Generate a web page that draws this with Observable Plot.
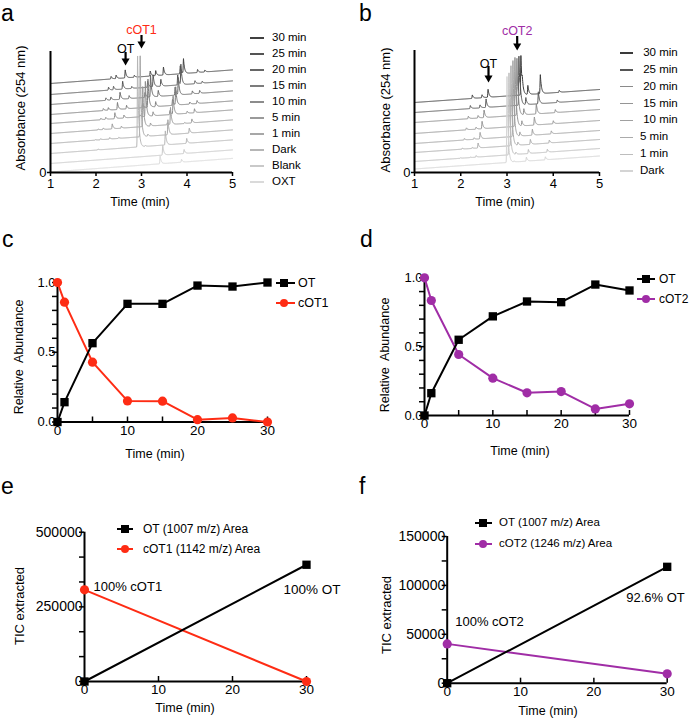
<!DOCTYPE html>
<html><head><meta charset="utf-8">
<script src="https://cdn.jsdelivr.net/npm/d3@7"></script>
<script src="https://cdn.jsdelivr.net/npm/@observablehq/plot@0.6"></script>
<style>
html,body{margin:0;padding:0;background:#fff;}
#fig{position:relative;width:689px;height:720px;overflow:hidden;font-family:"Liberation Sans",Arial,Helvetica,sans-serif;color:#000;}
#fig .t{position:absolute;white-space:pre;line-height:1;}
#fig .sw{position:absolute;}
#fig svg{position:absolute;overflow:visible;}
</style></head><body><div id="fig"></div>
<script>
// ================= DATA =================
// Panel a: HPLC traces, listed bottom to top; peaks (min) and their heights per trace
const tracesA = ["OXT","Blank","Dark","1 min","5 min","10 min","15 min","20 min","25 min","30 min"];
const peakTimesA = [1.82, 1.93, 2.13, 2.33, 2.68, 2.80, 2.97, 3.34, 3.41, 3.72, 3.88];
const peakHeightsA = [
  [0,0,0,0.5,1,1.5,2,2.5,3,2.5],
  [0,0,1,1,1.5,2,2.5,3,3.5,3.5],
  [0,0,0,1.5,5,6,7,7,8,8],
  [0,0,0,1,2,3,3.5,3,2,2],
  [0,0,0,0,0,2,3,5,6,5],
  [0,0,91,81,40,35,28,22,12,5],
  [0,0,1,2,3,4,5,6,7,8],
  [0,0,0,0,2,4,6,8,10,8],
  [8,10,14,15,17,18,18,17,20,14.5],
  [0,0,0,0,1,2,2,3,3,3],
  [3,4,5,5,4,4,3,3,2,2]
];
const arrowLabelsA = ["OT","cOT1"];
const arrowTimesA = [2.65, 3.0];

// Panel b
const tracesB = ["Dark","1 min","5 min","10 min","15 min","20 min","25 min","30 min"];
const peakTimesB = [1.95, 2.16, 2.29, 3.00, 3.03, 3.15, 3.42, 3.83];
const peakHeightsB = [
  [0,0.5,1,1.5,2,2.5,3,3.5],
  [0,0.5,1,1.5,2,2.5,3,3],
  [0,1.5,5,6.5,7.5,7.5,8.5,8],
  [86,82,80,76,69,57,49,39.5],
  [0,2,3,4,5,6,7,8],
  [1,2,3,4,5,6,7,9],
  [4,4,5,6,8,10,12,19],
  [3,3,3,3,3,3,2.5,2]
];
const arrowLabelsB = ["OT","cOT2"];
const arrowTimesB = [2.6, 3.22];

// Panels c, d: relative abundance
const timesCD = [0,1,5,10,15,20,25,30];
const otC   = [0,0.142,0.565,0.847,0.847,0.978,0.971,1.0];
const cot1C = [1.0,0.859,0.429,0.151,0.149,0.017,0.029,0.0];
const otD   = [0,0.162,0.55,0.72,0.828,0.823,0.951,0.908];
const cot2D = [1.0,0.835,0.443,0.271,0.165,0.174,0.048,0.085];

// Panels e, f: TIC extracted areas
const timesEF = [0,30];
const otE   = [0,391000];
const cot1E = [307000,0];
const otF   = [0,119000];
const cot2F = [40200,9600];
const pctLabelsE = ["100% cOT1","100% OT"];
const pctLabelsF = ["100% cOT2","92.6% OT"];

// ================= STYLE / LAYOUT =================
const RED = "#fe2c14", PURPLE = "#a02da6";
const FONT = "'Liberation Sans', Arial, Helvetica, sans-serif";
const colorsA = ["#dadada","#c9c9c9","#b6b6b6","#a7a7a7","#9a9a9a","#8c8c8c","#7c7c7c","#666666","#545454","#404040"];
const colorsB = ["#d4d4d4","#bdbdbd","#ababab","#a0a0a0","#959595","#8a8a8a","#555555","#3a3a3a"];
const fig = document.getElementById("fig");

function place(svg, left, top){ svg.style.left = left+"px"; svg.style.top = top+"px"; fig.appendChild(svg); }
function txt(s, x, y, {size=12, anchor="start", color="#000", rot=false}={}){
  const d = document.createElement("div"); d.className="t"; d.textContent=s;
  d.style.left=x+"px"; d.style.top=y+"px"; d.style.fontSize=size+"px"; d.style.color=color;
  const tx = anchor==="middle"?"-50%":anchor==="end"?"-100%":"0";
  d.style.transform = rot ? "translate(-50%,-50%) rotate(-90deg)" : `translate(${tx},-50%)`;
  fig.appendChild(d);
}
function box(x,y,w,h,color,round){
  const d=document.createElement("div"); d.className="sw";
  Object.assign(d.style,{left:x+"px",top:y+"px",width:w+"px",height:h+"px",background:color,borderRadius:round?"50%":"0"});
  fig.appendChild(d);
}
function legendItem({x1,x2,y,color,lw=2,marker=null,mx,label,tx,size=12}){
  box(x1, y-lw/2, x2-x1, lw, color);
  if(marker==="square") box(mx-4.2, y-4.2, 8.4, 8.4, color);
  if(marker==="circle") box(mx-4.4, y-4.4, 8.8, 8.8, color, true);
  txt(label, tx, y, {size});
}
const baseStyle = {fontFamily: FONT, background:"transparent", color:"#000", overflow:"visible"};

function peakShape(dt){ return dt < 0 ? Math.exp(-(dt*dt)/(2*0.006*0.006)) : Math.exp(-dt/0.024); }

function chromPanel(cfg){
  const {names, colors, base, drift, shift, times, heights, geo, arrowTimes, arrowLabels, arrowColors, arrowGeo} = cfg;
  const [left, top, width, height, mL, mR, mT, mB] = geo;
  const innerH = height - mT - mB;
  const rows = [];
  for(let i = names.length-1; i >= 0; --i){
    const apex = times.map(p => p + i*shift);
    const ts = Array.from(new Set([...d3.range(1, 5.0001, 0.004), ...apex.filter(t=>t>=1&&t<=5)])).sort((a,b)=>a-b);
    for(const t of ts){
      let v = base[i] + drift*(t-1);
      times.forEach((p,k)=>{ const h = heights[k][i]; if(h) v += h*peakShape(t-apex[k]); });
      rows.push({trace:names[i], t, v});
    }
  }
  const marks = [
    Plot.line(rows, {x:"t", y:"v", z:"trace", stroke:"trace", strokeWidth:1}),
    Plot.ruleX([1], {y1:0, y2:innerH, strokeWidth:2}),
    Plot.ruleY([0], {x1:1, x2:5, strokeWidth:2}),
    Plot.axisX({ticks:[1,2,3,4,5], tickSize:4, tickPadding:2, strokeWidth:1.5, tickFormat:d3.format("d"), fontSize:13, label:null}),
    Plot.axisY({ticks:[0], tickSize:3, tickPadding:1, strokeWidth:1.5, fontSize:13, label:null})
  ];
  arrowTimes.forEach((t,k)=>{
    const g = arrowGeo[k];
    const d = [{t, label:arrowLabels[k]}];
    marks.push(Plot.text(d, {x:"t", text:"label", frameAnchor:"top", dy:g.labelY-mT, fill:arrowColors[k], fontSize:12.5}));
    marks.push(Plot.tickX(d, {x:"t", insetTop:g.shaftTop-mT, insetBottom:(mT+innerH)-(g.tipY-4), strokeWidth:2.2, stroke:"#000"}));
    marks.push(Plot.dot(d, {x:"t", frameAnchor:"top", dy:g.tipY-4.6-mT, symbol:"triangle", rotate:180, r:3, fill:"#000", stroke:"none"}));
  });
  const svg = Plot.plot({width, height, marginLeft:mL, marginRight:mR, marginTop:mT, marginBottom:mB,
    x:{domain:[1,5]}, y:{domain:[0,innerH]}, color:{domain:names, range:colors},
    style:{...baseStyle, fontSize:"13px"}, marks});
  place(svg, left, top);
}

function kineticPanel(cfg){
  const {times, series, geo, yMax, yMajor, yMinor, yFmt, yFont, xMinor, xFont, notes} = cfg;
  const [left, top, width, height, mL, mR, mT, mB] = geo;
  const innerH = height - mT - mB;
  const marks = [
    Plot.ruleX([0], {y1:0, y2:yMax, strokeWidth:2}),
    Plot.ruleY([0], {x1:0, x2:30, strokeWidth:2}),
    Plot.axisY({ticks:yMinor, tickSize:5, strokeWidth:1.5, tickFormat:()=>"", label:null}),
    Plot.axisY({ticks:yMajor, tickSize:0, tickPadding:2, tickFormat:yFmt, fontSize:yFont, label:null}),
    Plot.tickX(xMinor, {x:d=>d, insetTop:innerH-5, strokeWidth:1.5}),
    Plot.axisX({ticks:[0,10,20,30], tickSize:0, tickPadding:3, tickFormat:d3.format("d"), fontSize:xFont, label:null})
  ];
  const rowsBy = series.map(s => times.map((t,k)=>({t, v:s.values[k]})));
  series.forEach((s,j)=>{
    marks.push(Plot.line(rowsBy[j], {x:"t", y:"v", stroke:s.color, strokeWidth:2}));
  });
  series.forEach((s,j)=>{
    marks.push(Plot.dot(rowsBy[j], {x:"t", y:"v", symbol:s.symbol, r:s.symbol==="square"?4.7:4.6, fill:s.color, stroke:"none"}));
  });
  (notes||[]).forEach(n=>{
    marks.push(Plot.text([rowsBy[n.series][n.index]], {x:"t", y:"v", text:()=>n.label, dx:n.dx, dy:n.dy, textAnchor:"start", fontSize:n.size}));
  });
  const svg = Plot.plot({width, height, marginLeft:mL, marginRight:mR, marginTop:mT, marginBottom:mB,
    x:{domain:[0,30]}, y:{domain:[0,yMax]}, style:{...baseStyle, fontSize:"13px"}, marks});
  place(svg, left, top);
}

// ---------- panel a ----------
chromPanel({names:tracesA, colors:colorsA, base:[0.5,9,19,29,39,49,58,68,78,89], drift:3.4, shift:0.057,
  times:peakTimesA, heights:peakHeightsA, geo:[0,0,250,200,50,18,51,28],
  arrowTimes:arrowTimesA, arrowLabels:arrowLabelsA, arrowColors:["#000",RED],
  arrowGeo:[{labelY:44, shaftTop:52, tipY:65},{labelY:25, shaftTop:35, tipY:48}]});
// ---------- panel b ----------
chromPanel({names:tracesB, colors:colorsB, base:[3.5,11,20,29,39,50,60,70], drift:3.25, shift:0.043,
  times:peakTimesB, heights:peakHeightsB, geo:[345,0,260,200,69,6,50,28],
  arrowTimes:arrowTimesB, arrowLabels:arrowLabelsB, arrowColors:["#000",PURPLE],
  arrowGeo:[{labelY:59, shaftTop:66, tipY:82},{labelY:26, shaftTop:36, tipY:50}]});

// ---------- panel c ----------
kineticPanel({times:timesCD, geo:[0,220,345,240,57,78,62,38.5], yMax:1,
  yMajor:[0,0.5,1], yMinor:d3.range(0,1.0001,0.1), yFmt:d3.format(".1f"), yFont:13,
  xMinor:[5,10,15,20,25,30], xFont:13.5,
  series:[{values:cot1C, color:RED, symbol:"circle"},{values:otC, color:"#000", symbol:"square"}]});
// ---------- panel d ----------
kineticPanel({times:timesCD, geo:[345,220,344,240,79,60,57.3,45], yMax:1,
  yMajor:[0,0.5,1], yMinor:d3.range(0,1.0001,0.1), yFmt:d3.format(".1f"), yFont:13,
  xMinor:[5,10,15,20,25,30], xFont:13.5,
  series:[{values:cot2D, color:PURPLE, symbol:"circle"},{values:otD, color:"#000", symbol:"square"}]});
// ---------- panel e ----------
kineticPanel({times:timesEF, geo:[0,470,345,250,84,39,61.7,39], yMax:500000,
  yMajor:[0,250000,500000], yMinor:d3.range(0,500001,500000/6), yFmt:d3.format("d"), yFont:14,
  xMinor:[10,20,30], xFont:13.5,
  series:[{values:cot1E, color:RED, symbol:"circle"},{values:otE, color:"#000", symbol:"square"}],
  notes:[{series:0,index:0,label:pctLabelsE[0],dx:9,dy:-3,size:13},{series:1,index:1,label:pctLabelsE[1],dx:-23,dy:25,size:13.5}]});
// ---------- panel f ----------
kineticPanel({times:timesEF, geo:[345,470,344,250,101.7,22.3,66,37.3], yMax:150000,
  yMajor:[0,50000,100000,150000], yMinor:d3.range(0,150001,25000), yFmt:d3.format("d"), yFont:14,
  xMinor:[10,20,30], xFont:13.5,
  series:[{values:cot2F, color:PURPLE, symbol:"circle"},{values:otF, color:"#000", symbol:"square"}],
  notes:[{series:0,index:0,label:pctLabelsF[0],dx:8,dy:-22,size:13},{series:1,index:1,label:pctLabelsF[1],dx:-41,dy:31,size:13}]});

// ---------- panel letters ----------
txt("a", 1, 13, {size:23}); txt("b", 359, 13, {size:23});
txt("c", 2, 239, {size:23}); txt("d", 360, 239, {size:23});
txt("e", 1, 486, {size:23}); txt("f", 359, 486, {size:23});

// ---------- axis titles ----------
txt("Absorbance (254 nm)", 20, 108, {size:13, rot:true});
txt("Time (min)", 140, 202, {size:12.5, anchor:"middle"});
txt("Absorbance (254 nm)", 385, 110, {size:13, rot:true});
txt("Time (min)", 505, 202, {size:12.5, anchor:"middle"});
txt("Relative  Abundance", 19, 357, {size:12.5, rot:true});
txt("Time (min)", 155, 454, {size:12.5, anchor:"middle"});
txt("Relative  Abundance", 385, 355, {size:12.5, rot:true});
txt("Time (min)", 520, 451, {size:12.5, anchor:"middle"});
txt("TIC extracted", 19, 606, {size:13, rot:true});
txt("Time (min)", 185, 708, {size:12.5, anchor:"middle"});
txt("TIC extracted", 386, 615, {size:13, rot:true});
txt("Time (min)", 548, 711, {size:12.5, anchor:"middle"});

// ---------- legends ----------
const legA = [...tracesA].reverse(), legColA = [...colorsA].reverse();
legA.forEach((n,i)=> legendItem({x1:250, x2:264, y:38+i*16, color:legColA[i], lw:1.3, label:n, tx:272, size:11.5}));
const legB = [...tracesB].reverse(), legColB = [...colorsB].reverse();
legB.forEach((n,i)=> legendItem({x1:620, x2:633, y:53+i*16.86, color:legColB[i], lw:1.3, label:(n.length>5&&n!=="Dark"?" ":"")+n, tx:640, size:11.5}));
legendItem({x1:276, x2:295, y:283, color:"#000", marker:"square", mx:284, label:"OT", tx:298, size:12.5});
legendItem({x1:276, x2:295, y:303, color:RED, marker:"circle", mx:284, label:"cOT1", tx:298, size:12.5});
legendItem({x1:637, x2:655, y:279, color:"#000", marker:"square", mx:646, label:"OT", tx:659, size:12});
legendItem({x1:637, x2:655, y:299, color:PURPLE, marker:"circle", mx:646, label:"cOT2", tx:659, size:12});
legendItem({x1:117, x2:133, y:529, color:"#000", marker:"square", mx:125, label:"OT (1007 m/z) Area", tx:143, size:12});
legendItem({x1:117, x2:133, y:549, color:RED, marker:"circle", mx:125, label:"cOT1 (1142 m/z) Area", tx:143, size:12});
legendItem({x1:475, x2:492, y:523, color:"#000", marker:"square", mx:483, label:"OT (1007 m/z) Area", tx:499, size:11.5});
legendItem({x1:475, x2:492, y:544, color:PURPLE, marker:"circle", mx:483, label:"cOT2 (1246 m/z) Area", tx:499, size:11.5});
</script></body></html>
